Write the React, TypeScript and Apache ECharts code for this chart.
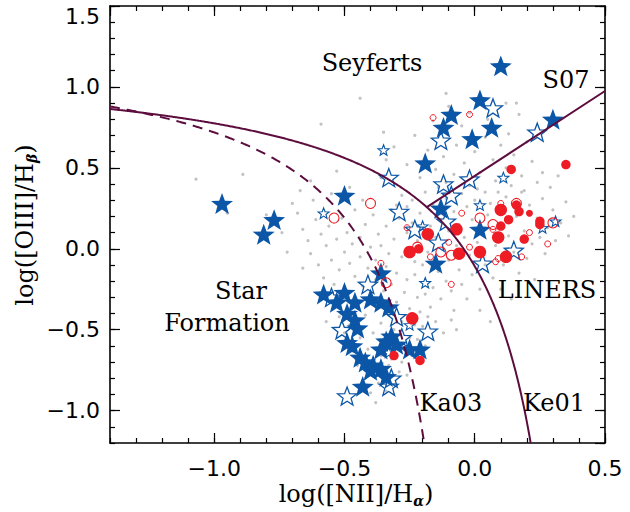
import React, { useEffect, useRef } from 'react';
import * as echarts from 'echarts';

// ---------- axis ranges ----------
const X_MIN = -1.4;
const X_MAX = 0.5;
const Y_MIN = -1.2;
const Y_MAX = 1.5;

// ---------- demarcation curves (published relations) ----------
const KE01 = { a: 0.61, x0: 0.47, b: 1.19 }; // Kewley et al. 2001
const KA03 = { a: 0.61, x0: 0.05, b: 1.3 }; // Kauffmann et al. 2003
const S07 = { slope: 1.05, intercept: 0.45 }; // Schawinski et al. 2007

// ---------- data points ----------
const grayDots: number[][] = [
  [-0.68, 0.22], [-0.66, 0.12], [-0.64, 0.05], [-0.63, -0.03], [-0.61, 0.18], [-0.60, -0.10], [-0.59, 0.09], [-0.58, -0.18],
  [-0.57, 0.02], [-0.56, 0.14], [-0.55, -0.07], [-0.54, -0.22], [-0.53, 0.06], [-0.52, -0.13], [-0.51, 0.19], [-0.50, -0.02],
  [-0.49, -0.26], [-0.49, 0.10], [-0.48, -0.09], [-0.47, 0.03], [-0.46, -0.17], [-0.46, 0.24], [-0.45, -0.35], [-0.44, 0.07],
  [-0.44, -0.05], [-0.43, -0.23], [-0.42, 0.15], [-0.42, -0.41], [-0.41, -0.12], [-0.40, 0.01], [-0.40, -0.29], [-0.39, 0.21],
  [-0.39, -0.52], [-0.38, -0.07], [-0.38, -0.19], [-0.37, 0.09], [-0.37, -0.36], [-0.36, -0.46], [-0.36, 0.02], [-0.35, -0.26],
  [-0.35, -0.58], [-0.34, 0.14], [-0.34, -0.11], [-0.33, -0.41], [-0.33, -0.03], [-0.32, -0.22], [-0.32, -0.68], [-0.31, 0.06],
  [-0.31, -0.50], [-0.30, -0.15], [-0.30, -0.33], [-0.29, -0.76], [-0.29, 0.19], [-0.28, -0.05], [-0.28, -0.45], [-0.27, -0.27],
  [-0.27, -0.62], [-0.26, 0.10], [-0.26, -0.19], [-0.25, -0.37], [-0.25, -0.55],
  [-0.52, -0.42], [-0.50, -0.52], [-0.47, -0.63], [-0.45, -0.72], [-0.44, -0.55], [-0.42, -0.80], [-0.41, -0.62], [-0.40, -0.89],
  [-0.39, -0.70], [-0.38, -0.95], [-0.37, -0.83], [-0.36, -0.66], [-0.35, -0.77], [-0.34, -0.88], [-0.33, -0.72], [-0.31, -0.84],
  [-0.30, -0.60], [-0.28, -0.70], [-0.26, -0.78], [-0.24, -0.66], [-0.23, -0.47], [-0.22, -0.56], [-0.21, -0.39], [-0.20, -0.48],
  [-0.19, -0.60], [-0.18, -0.42], [-0.55, -0.33], [-0.57, -0.45], [-0.48, -0.47], [-0.43, -0.49],
  [-1.07, 0.43], [-0.89, 0.46], [-0.70, 0.28], [-0.80, 0.21], [-0.74, 0.10], [-0.72, -0.02], [-0.67, 0.36], [-0.62, 0.30],
  [-0.95, 0.22], [-0.66, -0.12], [-0.63, 0.42], [-0.55, 0.34], [-0.48, 0.38], [-0.43, 0.30],
  [-0.24, 0.30], [-0.22, 0.05], [-0.21, 0.22], [-0.20, -0.10], [-0.19, 0.35], [-0.18, -0.02], [-0.17, 0.14], [-0.16, -0.24],
  [-0.16, 0.27], [-0.15, 0.07], [-0.14, -0.14], [-0.13, -0.31], [-0.13, 0.18], [-0.12, 0.00], [-0.11, -0.20], [-0.11, 0.31],
  [-0.10, -0.07], [-0.10, 0.11], [-0.09, -0.26], [-0.08, 0.23], [-0.08, -0.38], [-0.07, 0.02], [-0.06, -0.13], [-0.06, 0.15],
  [-0.05, 0.34], [-0.05, -0.22], [-0.04, 0.07], [-0.03, -0.31], [-0.03, 0.26], [-0.02, -0.04], [-0.01, 0.18], [-0.01, -0.16],
  [0.00, 0.30], [0.01, 0.04], [0.02, -0.25], [0.03, 0.12], [0.04, -0.10], [0.05, 0.21], [-0.23, -0.16], [-0.22, -0.30],
  [-0.20, 0.09], [-0.17, -0.36], [-0.15, -0.45], [-0.12, -0.52], [-0.09, -0.44], [-0.19, -0.28], [-0.24, 0.16], [-0.26, 0.26],
  [-0.28, 0.33], [-0.30, 0.27], [-0.32, 0.24], [-0.23, -0.08], [-0.14, 0.38], [-0.07, -0.50], [-0.02, 0.39],
  [-0.31, 0.63], [-0.26, 0.52], [-0.23, 0.70], [-0.21, 0.44], [-0.18, 0.61], [-0.16, 0.79], [-0.15, 0.49], [-0.12, 0.57],
  [-0.10, 0.88], [-0.08, 0.46], [-0.07, 0.64], [-0.05, 0.76], [-0.04, 0.53], [-0.02, 0.84], [0.00, 0.60], [0.02, 0.47],
  [0.04, 0.69], [0.05, 0.80], [0.07, 0.55], [0.08, 0.42], [0.10, 0.64], [0.12, 0.50], [0.13, 0.71], [0.15, 0.58],
  [0.17, 0.83], [0.18, 0.45], [0.20, 0.66], [0.22, 0.54], [0.24, 0.41], [-0.36, 0.44], [-0.34, 0.55], [-0.59, 0.77],
  [-0.53, 0.48], [0.09, 0.35], [0.14, 0.39], [-0.11, 0.41], [0.01, 0.37], [0.19, 0.36], [-0.44, 0.93], [-0.35, 0.72],
  [-0.11, 0.96], [0.12, 0.90], [0.16, 0.90],
  [0.06, 0.28], [0.08, 0.02], [0.09, 0.15], [0.11, -0.10], [0.12, 0.32], [0.13, 0.08], [0.15, -0.02], [0.16, 0.20],
  [0.17, -0.15], [0.18, 0.35], [0.19, 0.11], [0.20, -0.06], [0.21, 0.27], [0.22, 0.03], [0.23, -0.19], [0.24, 0.19],
  [0.25, 0.07], [0.26, 0.31], [0.27, -0.03], [0.28, 0.13], [0.30, 0.24], [0.31, 0.05], [0.33, 0.16], [0.35, 0.29],
  [0.36, 0.08], [0.07, -0.18], [0.10, -0.25], [0.14, -0.31], [0.04, 0.35], [0.29, 0.38], [0.32, 0.45], [0.26, 0.47],
  [0.38, 0.20], [0.02, -0.38], [0.06, -0.45],
];

const blueFilledStars: number[][] = [
  [0.10, 1.13], [-0.97, 0.28], [-0.77, 0.18], [-0.81, 0.09], [-0.50, 0.33], [0.02, 0.92], [-0.09, 0.83], [-0.12, 0.75],
  [0.065, 0.75], [-0.01, 0.68], [0.30, 0.80], [-0.19, 0.53], [-0.13, 0.25], [0.02, 0.12], [-0.15, -0.09], [-0.36, -0.15],
  [-0.58, -0.28], [-0.50, -0.27], [-0.53, -0.33], [-0.46, -0.33], [-0.40, -0.31], [-0.36, -0.33], [-0.33, -0.36], [-0.49, -0.40],
  [-0.46, -0.44], [-0.45, -0.49], [-0.49, -0.58], [-0.32, -0.54], [-0.34, -0.57], [-0.30, -0.59], [-0.36, -0.62], [-0.25, -0.62],
  [-0.21, -0.62], [-0.47, -0.60], [-0.42, -0.70], [-0.39, -0.72], [-0.36, -0.74], [-0.40, -0.75], [-0.34, -0.79], [-0.43, -0.85],
  [-0.44, -0.67],
];

const blueOpenStarsLarge: number[][] = [
  [0.07, 0.87], [-0.13, 0.67], [0.24, 0.72], [-0.33, 0.44], [-0.29, 0.23], [-0.12, 0.40], [-0.02, 0.43], [-0.09, 0.33],
  [-0.11, 0.17], [-0.23, 0.12], [-0.14, 0.04], [0.15, -0.01], [0.03, -0.09],
  [-0.41, -0.22], [-0.55, -0.30], [-0.51, -0.50], [-0.30, -0.42], [-0.28, -0.55], [-0.18, -0.51], [-0.32, -0.80], [-0.33, -0.85],
  [-0.49, -0.91],
];

const blueOpenStarsSmall: number[][] = [
  [-0.58, 0.22], [0.11, 0.44], [0.02, 0.27], [-0.20, 0.14], [0.26, 0.13], [0.31, 0.17], [-0.19, -0.21], [-0.35, 0.61],
  [-0.25, -0.47], [-0.33, -0.64],
];

const redFilledLarge: number[][] = [
  [0.10, 0.24], [0.09, 0.07], [0.02, -0.02], [0.12, -0.05], [-0.18, 0.09], [-0.07, 0.12], [-0.25, -0.02], [-0.06, -0.03],
  [-0.24, -0.43],
];

const redFilledMedium: number[][] = [
  [0.14, 0.49], [0.35, 0.52], [0.16, 0.27], [0.17, 0.23], [0.13, 0.18], [0.10, 0.14], [0.25, 0.17], [0.25, 0.15],
  [0.19, 0.06], [-0.215, 0.0], [-0.31, -0.66], [-0.21, -0.69],
];

const redFilledSmall: number[][] = [[0.21, 0.22]];

const redOpenMedium: number[][] = [
  [-0.40, 0.28], [-0.54, 0.19], [0.16, 0.28], [0.02, 0.19], [0.07, 0.15], [0.30, 0.16], [-0.22, 0.01], [-0.13, -0.02],
  [-0.09, -0.04], [-0.34, -0.21],
];

const redOpenSmall: number[][] = [
  [-0.16, 0.81], [-0.02, 0.83], [0.10, 0.28], [0.07, 0.12], [0.21, 0.10], [0.28, 0.03], [0.18, -0.05], [0.09, -0.06],
  [0.08, -0.08], [-0.02, 0.01], [-0.26, 0.13], [-0.05, 0.22], [-0.10, 0.04], [-0.17, -0.05], [-0.36, -0.09], [-0.09, -0.22],
];

// ---------- curve sampling ----------
function hyperbola(c: { a: number; x0: number; b: number }, xStart: number, yEnd: number, step: number): number[][] {
  const xEnd = c.x0 + c.a / (yEnd - c.b);
  const pts: number[][] = [];
  for (let x = xStart; x < xEnd; x += step) {
    pts.push([x, c.a / (x - c.x0) + c.b]);
  }
  pts.push([xEnd, yEnd]);
  return pts;
}

function s07Line(): number[][] {
  // intersection of S07 line with Ke01 curve
  const A = S07.slope;
  const B = S07.intercept - KE01.b - S07.slope * KE01.x0;
  const C = -(S07.intercept - KE01.b) * KE01.x0 - KE01.a;
  const x1 = (-B - Math.sqrt(B * B - 4 * A * C)) / (2 * A);
  return [
    [x1, S07.slope * x1 + S07.intercept],
    [X_MAX, S07.slope * X_MAX + S07.intercept],
  ];
}

const STAR =
  'path://M50 0 L62.34 33.01 L97.55 34.55 L69.97 56.49 L79.39 90.45 L50 71 L20.61 90.45 L30.03 56.49 L2.45 34.55 L37.66 33.01 Z';

const BLUE = '#0b56a6';
const RED = '#ee1c25';
const GRAY = '#c2c2c2';
const LINE = '#5c0d3e';
const TICK_FONT = 'DejaVu Sans';
const SERIF = 'DejaVu Serif';

const fmt = (v: number) => (v < 0 ? '\u2212' : '') + Math.abs(v).toFixed(1);

export default function App() {
  const ref = useRef<HTMLDivElement>(null);

  useEffect(() => {
    document.body.style.margin = '0';
    if (!ref.current) return;
    const chart = echarts.init(ref.current, undefined, { renderer: 'svg' });

    const majorTick = { inside: true, length: 10, lineStyle: { color: '#000', width: 1.2 } };
    const minorTickAx = { inside: true, length: 5, lineStyle: { color: '#000', width: 1.2 } };
    const axLine = { show: true, onZero: false, lineStyle: { color: '#000', width: 1.6 } };
    const noLine = { show: false, onZero: false };

    const xCommon = { type: 'value', min: X_MIN, max: X_MAX, splitLine: { show: false } };
    const yCommon = { type: 'value', min: Y_MIN, max: Y_MAX, splitLine: { show: false } };

    const scatter = (data: number[][], symbol: string, size: number, fill: string, stroke?: string, bw = 0, z = 2) => ({
      type: 'scatter',
      data,
      symbol,
      symbolSize: size,
      symbolKeepAspect: true,
      silent: true,
      z,
      itemStyle: { color: fill, borderColor: stroke || fill, borderWidth: bw, opacity: 1 },
      emphasis: { disabled: true },
    });

    const option: any = {
      animation: false,
      backgroundColor: '#fff',
      grid: { left: 110, right: 25, top: 6, bottom: 69, containLabel: false, outerBoundsMode: 'none' },
      xAxis: [
        {
          ...xCommon,
          position: 'bottom',
          splitNumber: 4,
          axisLine: axLine,
          axisTick: majorTick,
          axisLabel: {
            showMinLabel: false,
            margin: 14,
            fontSize: 22,
            fontFamily: TICK_FONT,
            color: '#000',
            formatter: fmt,
          },
        },
        { ...xCommon, position: 'bottom', interval: 0.1, axisLine: noLine, axisTick: minorTickAx, axisLabel: { show: false } },
        { ...xCommon, position: 'top', splitNumber: 4, axisLine: axLine, axisTick: majorTick, axisLabel: { show: false } },
        { ...xCommon, position: 'top', interval: 0.1, axisLine: noLine, axisTick: minorTickAx, axisLabel: { show: false } },
      ],
      yAxis: [
        {
          ...yCommon,
          position: 'left',
          splitNumber: 5,
          axisLine: axLine,
          axisTick: majorTick,
          axisLabel: {
            showMinLabel: false,
            margin: 10,
            fontSize: 22,
            fontFamily: TICK_FONT,
            color: '#000',
            formatter: (v: number) => (Math.abs(v - Y_MAX) < 1e-9 ? '{t|' + fmt(v) + '}' : fmt(v)),
            rich: { t: { fontSize: 22, fontFamily: TICK_FONT, color: '#000', padding: [20, 0, 0, 0] } },
          },
        },
        { ...yCommon, position: 'left', interval: 0.1, axisLine: noLine, axisTick: minorTickAx, axisLabel: { show: false } },
        { ...yCommon, position: 'right', splitNumber: 5, axisLine: axLine, axisTick: majorTick, axisLabel: { show: false } },
        { ...yCommon, position: 'right', interval: 0.1, axisLine: noLine, axisTick: minorTickAx, axisLabel: { show: false } },
      ],
      series: [
        scatter(grayDots, 'circle', 3.2, GRAY, GRAY, 0, 1),
        scatter(blueOpenStarsLarge, STAR, 19, 'rgba(255,255,255,0)', BLUE, 1.3, 2),
        scatter(blueOpenStarsSmall, STAR, 11, 'rgba(255,255,255,0)', BLUE, 1.1, 2),
        scatter(blueFilledStars, STAR, 22, BLUE, BLUE, 0, 3),
        scatter(redOpenMedium, 'circle', 10, 'rgba(255,255,255,0)', RED, 1.1, 4),
        scatter(redOpenSmall, 'circle', 6, 'rgba(255,255,255,0)', RED, 1, 4),
        scatter(redFilledLarge, 'circle', 12.5, RED, RED, 0, 5),
        scatter(redFilledMedium, 'circle', 9.5, RED, RED, 0, 5),
        scatter(redFilledSmall, 'circle', 7, RED, RED, 0, 5),
        {
          type: 'line',
          data: hyperbola(KE01, X_MIN, Y_MIN, 0.002),
          showSymbol: false,
          silent: true,
          z: 6,
          lineStyle: { color: LINE, width: 2 },
        },
        {
          type: 'line',
          data: hyperbola(KA03, X_MIN, Y_MIN, 0.002),
          showSymbol: false,
          silent: true,
          z: 6,
          lineStyle: { color: LINE, width: 2, type: [10, 7] },
        },
        {
          type: 'line',
          data: s07Line(),
          showSymbol: false,
          silent: true,
          z: 6,
          lineStyle: { color: LINE, width: 2 },
        },
      ],
      graphic: [
        { type: 'text', x: 372, y: 63, z: 10, style: { text: 'Seyferts', font: `24px "${SERIF}"`, fill: '#000', align: 'center', verticalAlign: 'middle' } },
        { type: 'text', x: 566, y: 80, z: 10, style: { text: 'S07', font: `24px "${SERIF}"`, fill: '#000', align: 'center', verticalAlign: 'middle' } },
        { type: 'text', x: 241, y: 291, z: 10, style: { text: 'Star', font: `24px "${SERIF}"`, fill: '#000', align: 'center', verticalAlign: 'middle' } },
        { type: 'text', x: 227, y: 323, z: 10, style: { text: 'Formation', font: `24px "${SERIF}"`, fill: '#000', align: 'center', verticalAlign: 'middle' } },
        { type: 'text', x: 547, y: 290, z: 10, style: { text: 'LINERS', font: `24px "${SERIF}"`, fill: '#000', align: 'center', verticalAlign: 'middle' } },
        { type: 'text', x: 451, y: 403, z: 10, style: { text: 'Ka03', font: `24px "${SERIF}"`, fill: '#000', align: 'center', verticalAlign: 'middle' } },
        { type: 'text', x: 554, y: 403, z: 10, style: { text: 'Ke01', font: `24px "${SERIF}"`, fill: '#000', align: 'center', verticalAlign: 'middle' } },
        {
          type: 'text',
          x: 356,
          y: 494,
          z: 10,
          style: {
            text: '{n|log([NII]/H}{s|\u03b1}{n|)}',
            align: 'center',
            verticalAlign: 'middle',
            fill: '#000',
            rich: {
              n: { fontSize: 24, fontFamily: SERIF, lineHeight: 28, fill: '#000' },
              s: { fontSize: 14, fontFamily: SERIF, fontWeight: 'bold', fontStyle: 'italic', padding: [14, 0, 0, 0], fill: '#000' },
            },
          },
        },
        {
          type: 'text',
          x: 25,
          y: 225,
          z: 10,
          rotation: Math.PI / 2,
          style: {
            text: '{n|log([OIII]/H}{s|\u03b2}{n|)}',
            align: 'center',
            verticalAlign: 'middle',
            fill: '#000',
            rich: {
              n: { fontSize: 24, fontFamily: SERIF, lineHeight: 28, fill: '#000' },
              s: { fontSize: 14, fontFamily: SERIF, fontWeight: 'bold', fontStyle: 'italic', padding: [14, 0, 0, 0], fill: '#000' },
            },
          },
        },
      ],
    };

    chart.setOption(option);
    return () => chart.dispose();
  }, []);

  return <div ref={ref} style={{ width: 630, height: 512 }} />;
}
